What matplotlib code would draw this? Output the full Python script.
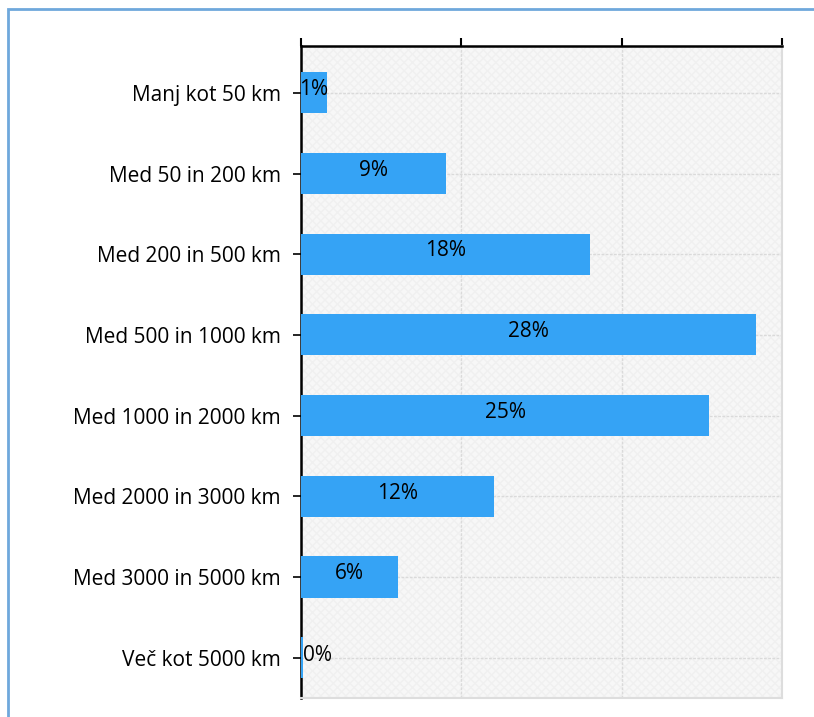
import matplotlib.pyplot as plt
from matplotlib.patches import Rectangle

categories = ['Manj kot 50 km', 'Med 50 in 200 km', 'Med 200 in 500 km',
              'Med 500 in 1000 km', 'Med 1000 in 2000 km', 'Med 2000 in 3000 km',
              'Med 3000 in 5000 km', 'Več kot 5000 km']
values = [1.6, 9.05, 18.0, 28.4, 25.45, 12.05, 6.05, 0.15]
labels = ['1%', '9%', '18%', '28%', '25%', '12%', '6%', '0%']

plt.rcParams['font.family'] = ['Open Sans', 'DejaVu Sans']

fig = plt.figure(figsize=(8.14, 7.17), dpi=100)
ax = fig.add_axes([0.3698, 0.0265, 0.5909, 0.9093])

# light blue frame around the chart
fig.patches.append(Rectangle((8 / 814, -0.05), 1.1, 1 - 9 / 717 + 0.05,
                             transform=fig.transFigure, fill=False,
                             edgecolor='#6fa8dc', linewidth=2))

ax.set_facecolor('#f7f7f7')
ax.add_patch(Rectangle((0, 0), 1, 1, transform=ax.transAxes, fill=False,
                       hatch='xxxx', edgecolor='#f0f0f0', linewidth=0, zorder=0))

pos = list(range(len(categories)))
ax.barh(pos, values, height=0.51, color='#35a3f5', zorder=3)

fs = 15
for p, v, lab in zip(pos, values, labels):
    if v < 1:
        ax.text(0.12, p - 0.03, lab, ha='left', va='center', fontsize=fs, zorder=4)
    else:
        ax.text(v / 2, p - 0.04, lab, ha='center', va='center', fontsize=fs, zorder=4)

ax.set_xlim(0, 30)
ax.set_ylim(7.5, -0.58)
ax.set_yticks(pos)
ax.set_yticklabels(categories, fontsize=fs)
ax.set_xticks([0, 10, 20, 30])
ax.xaxis.tick_top()
ax.tick_params(axis='x', labeltop=False, length=6, width=1.5, color='black')
ax.tick_params(axis='y', length=6, width=1.2, pad=8.5)

ax.grid(True, color='#dadada', linestyle=(0, (2, 1)), linewidth=1, zorder=1)
ax.set_axisbelow(True)

ax.spines['top'].set_color('black')
ax.spines['top'].set_linewidth(1.8)
ax.spines['left'].set_color('black')
ax.spines['left'].set_linewidth(1.8)
ax.spines['right'].set_color('#dddddd')
ax.spines['bottom'].set_color('#dddddd')
ax.spines['right'].set_linewidth(1.5)
ax.spines['bottom'].set_linewidth(1.5)

plt.savefig('out.png', dpi=100)
